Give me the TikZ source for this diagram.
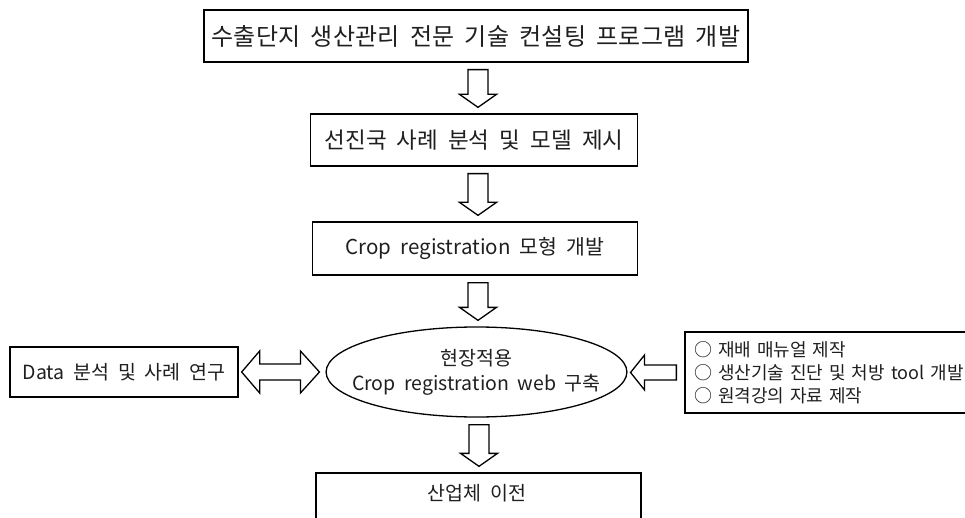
\documentclass[tikz,border=0pt]{standalone}
\usepackage{fontspec}
\setmainfont[WordSpace=2]{Noto Sans CJK KR}
\usetikzlibrary{calc,shapes.geometric}
\definecolor{ink}{gray}{0.12}
\tikzset{
  box/.style={draw, line width=1.3pt, inner sep=0pt, align=center, text=ink},
  blk/.style={draw, line width=1.3pt, fill=white, line join=miter},
  big/.style={font=\fontsize{24}{28}\selectfont},
  big2/.style={font=\fontsize{22.5}{26}\selectfont},
  mid/.style={font=\fontsize{19.5}{23}\selectfont},
  small/.style={font=\fontsize{18}{23}\selectfont},
}
\begin{document}
\begin{tikzpicture}[x=1pt,y=-1pt]
\useasboundingbox (0,0) rectangle (965,518);
\clip (0,0) rectangle (965,518);
\node[box,big,minimum width=544pt,minimum height=52pt] (top) at (476,36) {수출단지 생산관리 전문 기술 컨설팅 프로그램 개발};
\node[box,big2,minimum width=327pt,minimum height=52pt] (case) at (474,140) {선진국 사례 분석 및 모델 제시};
\node[box,mid,font=\fontsize{20.5}{24}\selectfont,minimum width=325pt,minimum height=53pt] (crop) at (475,248.5) {Crop registration 모형 개발};
\node[box,mid,ellipse,inner xsep=-18pt,minimum width=297pt,minimum height=90pt] (web) at (476.5,372) {현장적용\\[2pt]Crop registration web 구축};
\node[box,mid,minimum width=228pt,minimum height=50pt] (data) at (124,372) {Data 분석 및 사례 연구};
\node[box,small,minimum height=81pt,align=left,text width=274pt,inner xsep=9pt] (tools) at (831,372.5) {○ 재배 매뉴얼 제작\\○ 생산기술 진단 및 처방 tool 개발\\○ 원격강의 자료 제작};
\node[box,mid,minimum width=325pt,minimum height=64pt] (ind) at (478.5,505) {};
\node[mid,text=ink] (indt) at (477,493) {산업체 이전};
\newcommand{\vblk}[3]{%
  \draw[blk] let \p1=(#1.south), \p2=(#2.north) in
    (\x1+#3-10pt,\y1-7pt) -- (\x1+#3+10pt,\y1-7pt) -- (\x1+#3+10pt,\y2+19pt)
    -- (\x1+#3+18.5pt,\y2+19pt) -- (\x1+#3,\y2+6pt) -- (\x1+#3-18.5pt,\y2+19pt)
    -- (\x1+#3-10pt,\y2+19pt) -- cycle;}
\vblk{top}{case}{2pt}
\vblk{case}{crop}{4pt}
\vblk{crop}{web}{3pt}
\vblk{web}{ind}{2.5pt}
\draw[blk] let \p1=(data.east), \p2=(web.west) in
  (\x1+3pt,\y1) -- (\x1+21pt,\y1+21pt) -- (\x1+21pt,\y1+8pt) -- (\x2-25pt,\y1+8pt)
  -- (\x2-25pt,\y1+21pt) -- (\x2-6pt,\y1) -- (\x2-25pt,\y1-21pt) -- (\x2-25pt,\y1-8pt)
  -- (\x1+21pt,\y1-8pt) -- (\x1+21pt,\y1-21pt) -- cycle;
\draw[blk] let \p1=(tools.west), \p2=(web.east) in
  (\x1-8pt,\y1+7.5pt) -- (\x2+17pt,\y1+7.5pt) -- (\x2+17pt,\y1+17.5pt) -- (\x2+3pt,\y1)
  -- (\x2+17pt,\y1-17.5pt) -- (\x2+17pt,\y1-7.5pt) -- (\x1-8pt,\y1-7.5pt) -- cycle;
\end{tikzpicture}
\end{document}
